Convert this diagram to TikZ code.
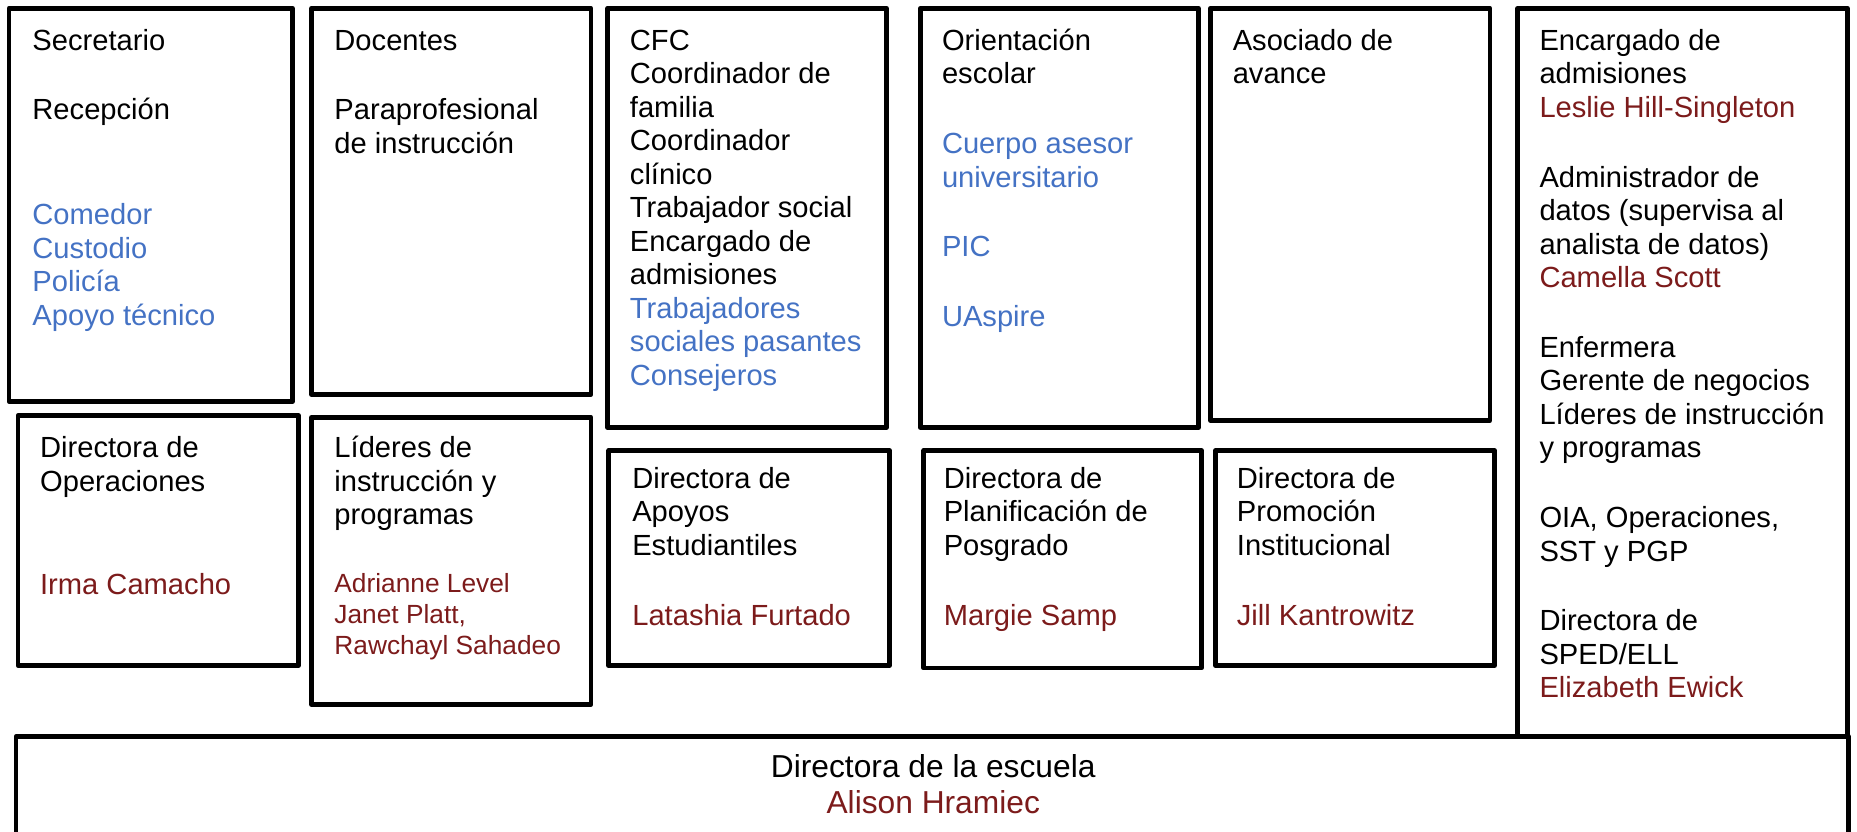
\documentclass[tikz,border=0pt]{standalone}
\usepackage{fontspec}
\setmainfont{Liberation Sans}
\usepackage{xcolor}
\usepackage{tikz}

\definecolor{azul}{RGB}{68,114,196}
\definecolor{granate}{RGB}{124,27,27}
\newcommand{\txtazul}[1]{\textcolor{azul}{#1}}
\newcommand{\txtgranate}[1]{\textcolor{granate}{#1}}
\newcommand{\alto}{\rule{0pt}{12pt}}

\begin{document}
\begin{tikzpicture}[x=0.5pt,y=-0.5pt,
  caja/.style={line width=2pt,line join=round},
  texto/.style={anchor=north west,align=left,inner sep=0pt,font=\fontsize{12.3}{14.15}\selectfont},
  nombres/.style={texto,font=\fontsize{11.1}{13}\selectfont,text=granate},
  escuela/.style={anchor=base,align=center,inner sep=0pt,font=\fontsize{13.4}{15.3}\selectfont}]

\useasboundingbox (0,0) rectangle (1568,702.5);
\clip (0,0) rectangle (1568,702.5);

% fila de arriba (texto: esquina = linea base - 24)
\draw[caja] (7.5,7) rectangle (247,339);										% Secretario
\node[texto] (secretario) at (27,18) {\alto Secretario\\[15.3pt]Recepción\\[30.1pt]\txtazul{Comedor}\\\txtazul{Custodio}\\\txtazul{Policía}\\\txtazul{Apoyo técnico}};
\draw[caja] (263,7) rectangle (499,333);										% Docentes
\node[texto] (docentes) at (282,18) {\alto Docentes\\[15.3pt]Paraprofesional\\de instrucción};
\draw[caja] (513,7) rectangle (748.5,361);										% CFC
\node[texto] (cfc) at (531.5,18) {\alto CFC\\Coordinador de\\familia\\Coordinador\\clínico\\Trabajador social\\Encargado de\\admisiones\\\txtazul{Trabajadores}\\\txtazul{sociales pasantes}\\\txtazul{Consejeros}};
\draw[caja] (777,7) rectangle (1012,361);										% Orientacion
\node[texto] (orientacion) at (795,18) {\alto Orientación\\escolar\\[15.3pt]\txtazul{Cuerpo asesor}\\\txtazul{universitario}\\[15.3pt]\txtazul{PIC}\\[15.3pt]\txtazul{UAspire}};
\draw[caja] (1022,7) rectangle (1258,355);										% Asociado
\node[texto] (asociado) at (1040.5,18) {\alto Asociado de\\avance};

% columna derecha
\draw[caja] (1281.5,7) rectangle (1560,622);
\node[texto] (encargado) at (1299.5,18) {\alto Encargado de\\admisiones\\\txtgranate{Leslie Hill-Singleton}\\[15.3pt]Administrador de\\datos (supervisa al\\analista de datos)\\\txtgranate{Camella Scott}\\[15.3pt]Enfermera\\Gerente de negocios\\Líderes de instrucción\\y programas\\[15.3pt]OIA, Operaciones,\\SST y PGP\\[15.3pt]Directora de\\SPED/ELL\\\txtgranate{Elizabeth Ewick}};

% fila de directoras
\draw[caja] (15.3,351) rectangle (252,562);										% Operaciones
\node[texto] (operaciones) at (33.5,362) {\alto Directora de\\Operaciones\\[29.6pt]\txtgranate{Irma Camacho}};
\draw[caja] (263,352.4) rectangle (499,594.7);									% Lideres
\node[texto] (lideres) at (282,362) {\alto Líderes de\\instrucción y\\programas};
\node[nombres] (lideresnom) at (282,476) {\alto Adrianne Level\\Janet Platt,\\Rawchayl Sahadeo};
\draw[caja] (514,380.5) rectangle (751,562);									% Apoyos
\node[texto] (apoyos) at (533.5,388) {\alto Directora de\\Apoyos\\Estudiantiles\\[15.3pt]\txtgranate{Latashia Furtado}};
\draw[caja] (780,380.5) rectangle (1014.5,564);									% Planificacion
\node[texto] (planificacion) at (796.5,388) {\alto Directora de\\Planificación de\\Posgrado\\[15.3pt]\txtgranate{Margie Samp}};
\draw[caja] (1026.5,380.5) rectangle (1262,562);								% Promocion
\node[texto] (promocion) at (1044,388) {\alto Directora de\\Promoción\\Institucional\\[15.3pt]\txtgranate{Jill Kantrowitz}};

% directora de la escuela (linea base de la ultima linea)
\draw[caja] (13.6,622) rectangle (1561,740);
\node[escuela] (directora) at (788,687) {Directora de la escuela\\\txtgranate{Alison Hramiec}};

\end{tikzpicture}
\end{document}
